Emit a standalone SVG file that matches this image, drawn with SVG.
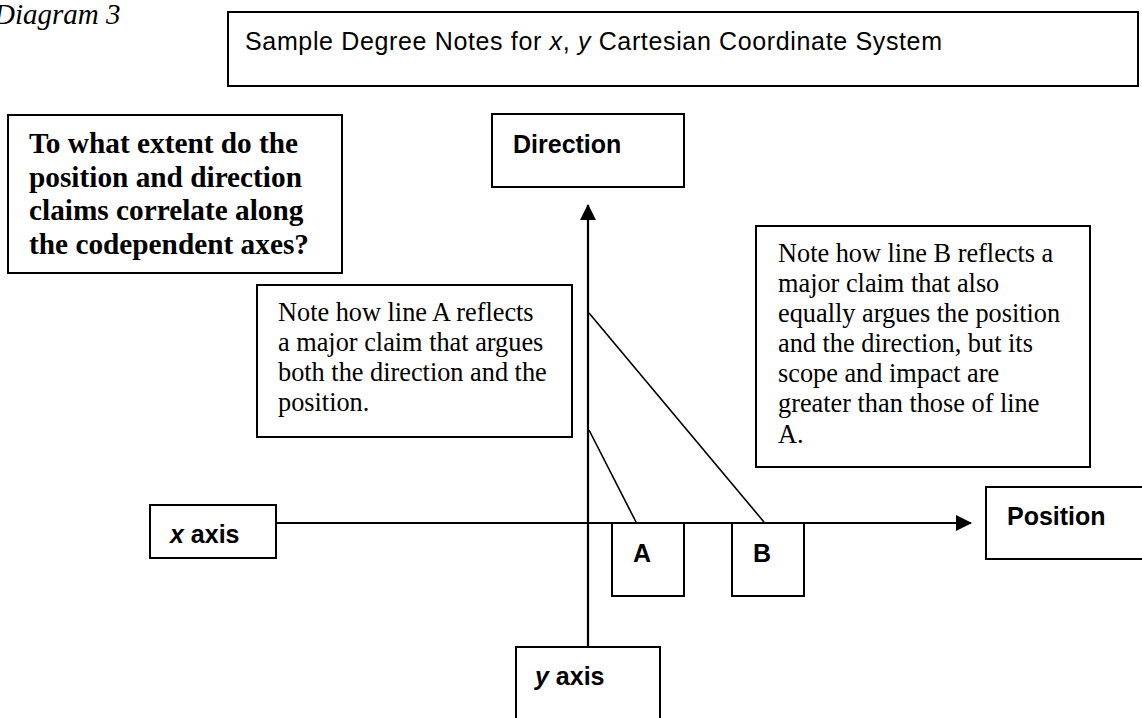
<svg xmlns="http://www.w3.org/2000/svg" width="1142" height="718" viewBox="0 0 1142 718">
  <style>
    .box { fill: #fff; stroke: #000; stroke-width: 2; }
    .axis { stroke: #000; stroke-width: 2.2; fill: none; }
    .claim { stroke: #000; stroke-width: 1.6; fill: none; }
    .sans { font-family: "Liberation Sans", Arial, sans-serif; fill: #000; }
    .label { font-family: "Liberation Sans", Arial, sans-serif; font-weight: bold; font-size: 25px; fill: #000; }
    .serif { font-family: "Liberation Serif", "Times New Roman", serif; fill: #000; }
    .note { font-family: "Liberation Serif", "Times New Roman", serif; font-size: 26.3px; fill: #000; }
    .question { font-family: "Liberation Serif", "Times New Roman", serif; font-size: 29.3px; font-weight: bold; fill: #000; }
  </style>
  <defs>
    <marker id="arrow" viewBox="0 0 16 16" refX="15" refY="8" markerWidth="16" markerHeight="16" markerUnits="userSpaceOnUse" orient="auto">
      <path d="M0,0 L16,8 L0,16 Z" fill="#000"/>
    </marker>
  </defs>
  <rect width="1142" height="718" fill="#fff"/>

  <!-- caption -->
  <text class="serif" x="-6" y="24" font-size="29" font-style="italic">Diagram 3</text>

  <!-- connectors: axes and claim lines -->
  <g id="connectors">
    <line class="axis" x1="588" y1="647" x2="588" y2="205" marker-end="url(#arrow)"/>
    <line class="axis" x1="276" y1="523" x2="971" y2="523" marker-end="url(#arrow)"/>
    <line class="claim" x1="589" y1="430" x2="636" y2="522"/>
    <line class="claim" x1="589" y1="313" x2="764" y2="522"/>
  </g>

  <g id="title">
    <rect class="box" x="228" y="12" width="910" height="74"/>
    <text class="sans" x="245" y="50" font-size="25" textLength="697">Sample Degree Notes for <tspan font-style="italic">x</tspan>, <tspan font-style="italic">y</tspan> Cartesian Coordinate System</text>
  </g>

  <g id="question">
    <rect class="box" x="8" y="115" width="334" height="158"/>
    <text class="question" x="29" y="153">To what extent do the</text>
    <text class="question" x="29" y="187">position and direction</text>
    <text class="question" x="29" y="220">claims correlate along</text>
    <text class="question" x="29" y="254">the codependent axes?</text>
  </g>

  <g id="direction">
    <rect class="box" x="492" y="114" width="192" height="73"/>
    <text class="label" x="513" y="153">Direction</text>
  </g>

  <g id="note-a">
    <rect class="box" x="257" y="285" width="315" height="152"/>
    <text class="note" x="278" y="321">Note how line A reflects</text>
    <text class="note" x="278" y="351">a major claim that argues</text>
    <text class="note" x="278" y="381">both the direction and the</text>
    <text class="note" x="278" y="411">position.</text>
  </g>

  <g id="note-b">
    <rect class="box" x="756" y="226" width="334" height="241"/>
    <text class="note" x="778" y="262">Note how line B reflects a</text>
    <text class="note" x="778" y="292">major claim that also</text>
    <text class="note" x="778" y="322">equally argues the position</text>
    <text class="note" x="778" y="352">and the direction, but its</text>
    <text class="note" x="778" y="382">scope and impact are</text>
    <text class="note" x="778" y="412">greater than those of line</text>
    <text class="note" x="778" y="443">A.</text>
  </g>

  <g id="x-axis">
    <rect class="box" x="150" y="505" width="126" height="53"/>
    <text class="label" x="170" y="543"><tspan font-style="italic">x</tspan> axis</text>
  </g>

  <g id="position">
    <rect class="box" x="986" y="487" width="170" height="72"/>
    <text class="label" x="1007" y="525">Position</text>
  </g>

  <g id="a">
    <rect class="box" x="612" y="523" width="72" height="73"/>
    <text class="label" x="633" y="562">A</text>
  </g>

  <g id="b">
    <rect class="box" x="732" y="523" width="72" height="73"/>
    <text class="label" x="753" y="562">B</text>
  </g>

  <g id="y-axis">
    <rect class="box" x="516" y="647" width="144" height="80"/>
    <text class="label" x="535" y="685"><tspan font-style="italic">y</tspan> axis</text>
  </g>
</svg>
